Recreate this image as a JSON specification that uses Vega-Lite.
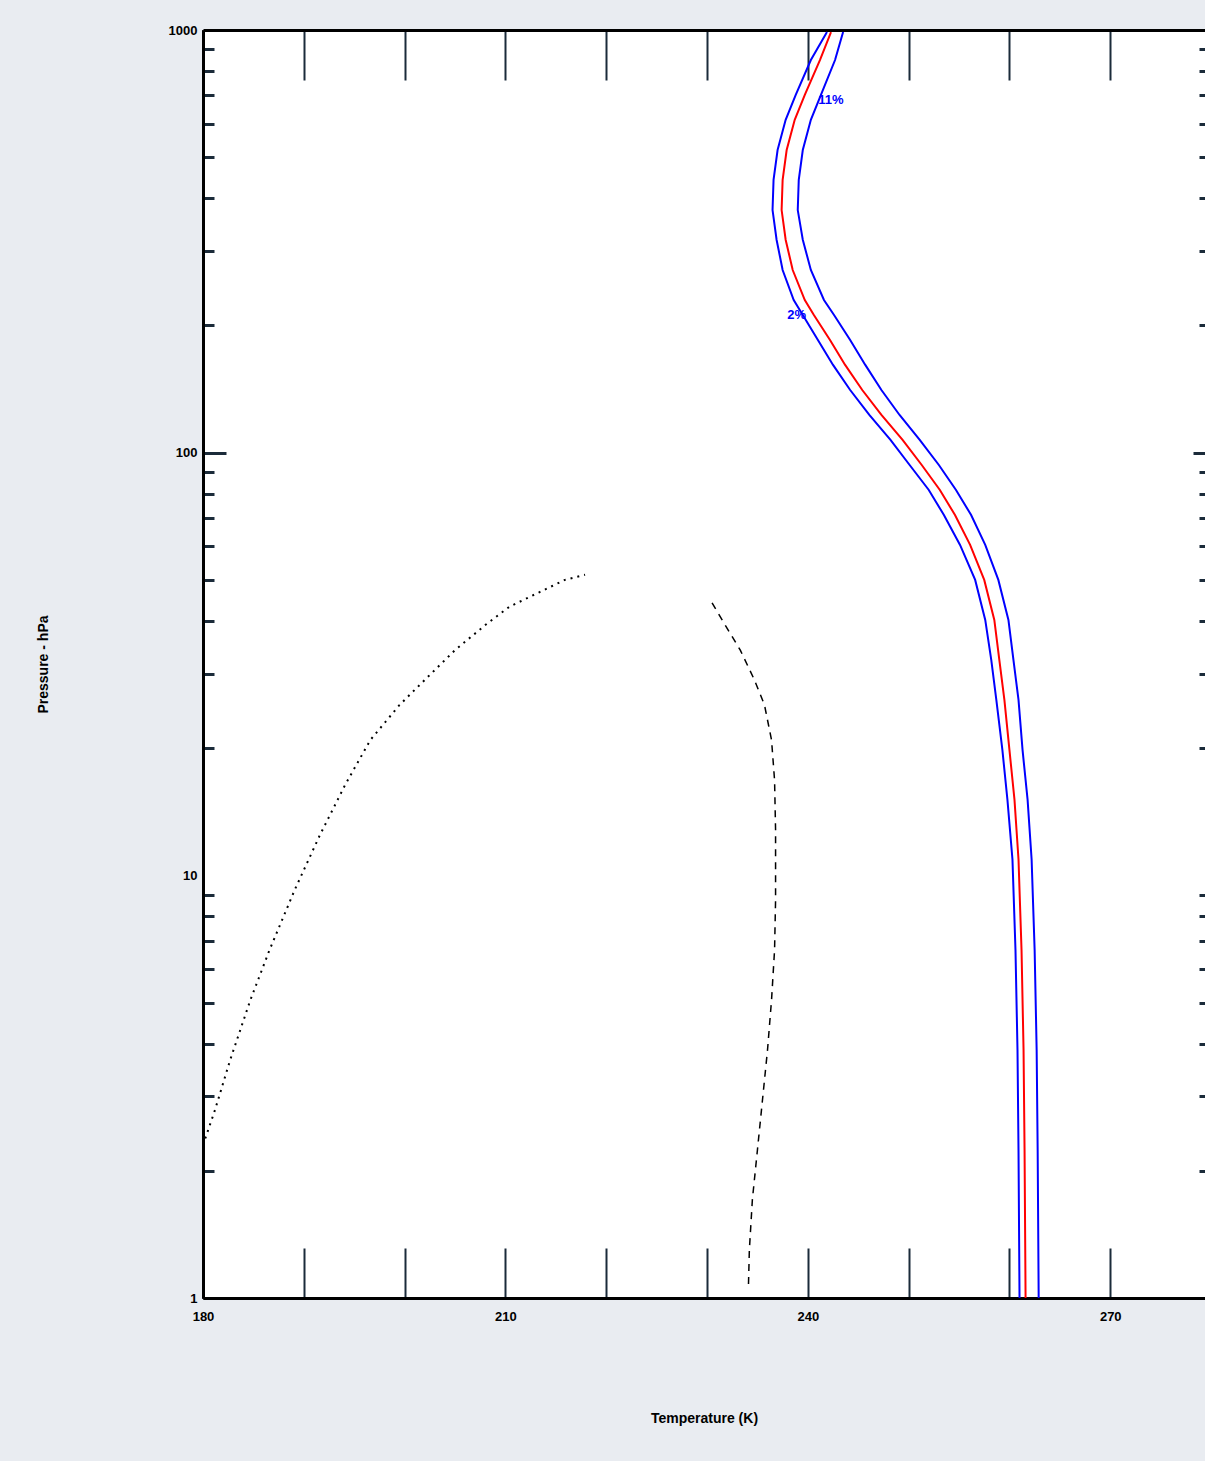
{
  "$schema": "https://vega.github.io/schema/vega-lite/v6.json",
  "width": 1002,
  "height": 1268,
  "autosize": {"type": "none"},
  "padding": {"left": 203, "top": 30, "right": 0, "bottom": 163},
  "background": "#e9ecf1",
  "config": {
    "view": {"stroke": null, "fill": "#ffffff"},
    "axis": {
      "grid": false,
      "domainColor": "#000000",
      "domainWidth": 3,
      "tickColor": "#1b2b3a",
      "labelFont": "Liberation Sans",
      "labelFontSize": 13,
      "labelFontWeight": "bold",
      "labelColor": "#000000",
      "labelFlush": false,
      "labelOverlap": false,
      "titleFont": "Liberation Sans",
      "titleFontSize": 14,
      "titleFontWeight": "bold",
      "titleColor": "#000000"
    }
  },
  "datasets": {
    "band": [
      {"P": 989, "T": 242.3, "lo": 241.9, "hi": 243.5},
      {"P": 849, "T": 241.2, "lo": 240.3, "hi": 242.7},
      {"P": 702, "T": 239.7, "lo": 238.8, "hi": 241.3},
      {"P": 613, "T": 238.7, "lo": 237.8, "hi": 240.3},
      {"P": 520, "T": 237.9, "lo": 237.0, "hi": 239.5},
      {"P": 442, "T": 237.5, "lo": 236.6, "hi": 239.1},
      {"P": 375, "T": 237.4, "lo": 236.5, "hi": 239.0},
      {"P": 319, "T": 237.8, "lo": 236.9, "hi": 239.5},
      {"P": 270.5, "T": 238.5, "lo": 237.5, "hi": 240.3},
      {"P": 229.7, "T": 239.7, "lo": 238.6, "hi": 241.6},
      {"P": 211.7, "T": 240.6, "lo": 239.5, "hi": 242.6},
      {"P": 184.8, "T": 242.2, "lo": 241.0, "hi": 244.2},
      {"P": 161.3, "T": 243.7, "lo": 242.5, "hi": 245.7},
      {"P": 140.7, "T": 245.4, "lo": 244.2, "hi": 247.3},
      {"P": 122.8, "T": 247.3, "lo": 246.1, "hi": 249.1},
      {"P": 107.2, "T": 249.4, "lo": 248.2, "hi": 251.1},
      {"P": 93.5, "T": 251.3, "lo": 250.1, "hi": 253.0},
      {"P": 81.6, "T": 253.1, "lo": 252.0, "hi": 254.7},
      {"P": 71.2, "T": 254.6, "lo": 253.5, "hi": 256.2},
      {"P": 60.5, "T": 256.1, "lo": 255.1, "hi": 257.6},
      {"P": 50.0, "T": 257.5, "lo": 256.6, "hi": 258.9},
      {"P": 40.2, "T": 258.5, "lo": 257.6, "hi": 259.9},
      {"P": 32.3, "T": 259.0, "lo": 258.2, "hi": 260.4},
      {"P": 26.0, "T": 259.5, "lo": 258.7, "hi": 260.9},
      {"P": 19.8, "T": 260.0, "lo": 259.3, "hi": 261.3},
      {"P": 15.1, "T": 260.5, "lo": 259.8, "hi": 261.8},
      {"P": 10.9, "T": 260.9, "lo": 260.3, "hi": 262.2},
      {"P": 6.66, "T": 261.2, "lo": 260.6, "hi": 262.5},
      {"P": 3.86, "T": 261.4, "lo": 260.8, "hi": 262.7},
      {"P": 2.24, "T": 261.5, "lo": 260.9, "hi": 262.8},
      {"P": 1.0, "T": 261.6, "lo": 261.0, "hi": 262.9}
    ],
    "dot": [
      {"P": 2.30, "T": 180.0},
      {"P": 2.79, "T": 181.2},
      {"P": 3.66, "T": 182.7},
      {"P": 5.07, "T": 184.7},
      {"P": 6.66, "T": 186.6},
      {"P": 9.24, "T": 189.1},
      {"P": 12.46, "T": 191.6},
      {"P": 16.37, "T": 194.1},
      {"P": 20.9, "T": 196.6},
      {"P": 25.3, "T": 199.5},
      {"P": 29.8, "T": 202.5},
      {"P": 34.1, "T": 205.0},
      {"P": 39.1, "T": 208.0},
      {"P": 43.2, "T": 210.4},
      {"P": 46.8, "T": 213.4},
      {"P": 50.0, "T": 215.9},
      {"P": 51.4, "T": 217.9}
    ],
    "dash": [
      {"P": 44.1, "T": 230.5},
      {"P": 39.1, "T": 231.8},
      {"P": 34.1, "T": 233.3},
      {"P": 29.0, "T": 234.7},
      {"P": 25.3, "T": 235.7},
      {"P": 20.9, "T": 236.4},
      {"P": 16.8, "T": 236.7},
      {"P": 12.8, "T": 236.8},
      {"P": 8.75, "T": 236.8},
      {"P": 6.66, "T": 236.7},
      {"P": 5.07, "T": 236.4},
      {"P": 3.86, "T": 236.0},
      {"P": 2.94, "T": 235.5},
      {"P": 2.24, "T": 235.0},
      {"P": 1.71, "T": 234.5},
      {"P": 1.30, "T": 234.2},
      {"P": 1.045, "T": 234.1}
    ],
    "bluelab": [
      {"P": 683, "T": 242.3, "text": "11%"},
      {"P": 211.7, "T": 238.9, "text": "2%"}
    ]
  },
  "resolve": {"axis": {"x": "independent", "y": "independent"}},
  "layer": [
    {
      "data": {"name": "band"},
      "mark": {"type": "line", "color": "#ff0000", "strokeWidth": 2},
      "encoding": {
        "x": {"field": "T", "type": "quantitative", "scale": {"domain": [180, 279.4], "nice": false, "zero": false},
          "axis": {"orient": "bottom", "values": [180, 210, 240, 270], "ticks": false, "domain": true, "labelPadding": 12, "title": "Temperature (K)", "titlePadding": 88}},
        "y": {"field": "P", "type": "quantitative", "scale": {"type": "log", "domain": [1, 1000], "nice": false},
          "axis": {"orient": "left", "values": [1, 10, 100, 1000], "format": "d", "ticks": false, "domain": true, "labelPadding": 6, "title": "Pressure - hPa", "titlePadding": 118}},
        "order": {"field": "P", "sort": "descending"}
      }
    },
    {
      "data": {"name": "band"},
      "mark": {"type": "line", "color": "#0000ff", "strokeWidth": 2},
      "encoding": {
        "x": {"field": "lo", "type": "quantitative", "scale": {"domain": [180, 279.4], "nice": false, "zero": false},
          "axis": {"orient": "bottom", "values": [190, 200, 210, 220, 230, 240, 250, 260, 270], "labels": false, "title": null, "tickSize": -50, "tickWidth": 2}},
        "y": {"field": "P", "type": "quantitative", "scale": {"type": "log", "domain": [1, 1000], "nice": false},
          "axis": {"orient": "left", "values": [2, 3, 4, 5, 6, 7, 8, 9, 20, 30, 40, 50, 60, 70, 80, 90, 200, 300, 400, 500, 600, 700, 800, 900], "labels": false, "title": null, "tickSize": -11, "tickWidth": 3}},
        "order": {"field": "P", "sort": "descending"}
      }
    },
    {
      "data": {"name": "band"},
      "mark": {"type": "line", "color": "#0000ff", "strokeWidth": 2},
      "encoding": {
        "x": {"field": "hi", "type": "quantitative", "scale": {"domain": [180, 279.4], "nice": false, "zero": false},
          "axis": {"orient": "top", "values": [190, 200, 210, 220, 230, 240, 250, 260, 270], "labels": false, "title": null, "tickSize": -50, "tickWidth": 2}},
        "y": {"field": "P", "type": "quantitative", "scale": {"type": "log", "domain": [1, 1000], "nice": false},
          "axis": {"orient": "left", "values": [100], "labels": false, "title": null, "tickSize": -23, "tickWidth": 3}},
        "order": {"field": "P", "sort": "descending"}
      }
    },
    {
      "data": {"name": "dot"},
      "mark": {"type": "line", "color": "#000000", "strokeWidth": 2, "strokeDash": [2, 5]},
      "encoding": {
        "x": {"field": "T", "type": "quantitative", "scale": {"domain": [180, 279.4], "nice": false, "zero": false}, "axis": null},
        "y": {"field": "P", "type": "quantitative", "scale": {"type": "log", "domain": [1, 1000], "nice": false},
          "axis": {"orient": "right", "values": [2, 3, 4, 5, 6, 7, 8, 9, 20, 30, 40, 50, 60, 70, 80, 90, 200, 300, 400, 500, 600, 700, 800, 900], "labels": false, "title": null, "domain": false, "tickSize": -6, "tickWidth": 3}},
        "order": {"field": "P", "sort": "ascending"}
      }
    },
    {
      "data": {"name": "dash"},
      "mark": {"type": "line", "color": "#000000", "strokeWidth": 1.5, "strokeDash": [7, 6]},
      "encoding": {
        "x": {"field": "T", "type": "quantitative", "scale": {"domain": [180, 279.4], "nice": false, "zero": false}, "axis": null},
        "y": {"field": "P", "type": "quantitative", "scale": {"type": "log", "domain": [1, 1000], "nice": false},
          "axis": {"orient": "right", "values": [100], "labels": false, "title": null, "domain": false, "tickSize": -12, "tickWidth": 3}},
        "order": {"field": "P", "sort": "descending"}
      }
    },
    {
      "data": {"name": "bluelab"},
      "mark": {"type": "text", "color": "#0000ff", "fontSize": 13, "fontWeight": "bold", "font": "Liberation Sans"},
      "encoding": {
        "x": {"field": "T", "type": "quantitative", "scale": {"domain": [180, 279.4], "nice": false, "zero": false}, "axis": null},
        "y": {"field": "P", "type": "quantitative", "scale": {"type": "log", "domain": [1, 1000], "nice": false}, "axis": null},
        "text": {"field": "text"}
      }
    }
  ]
}
